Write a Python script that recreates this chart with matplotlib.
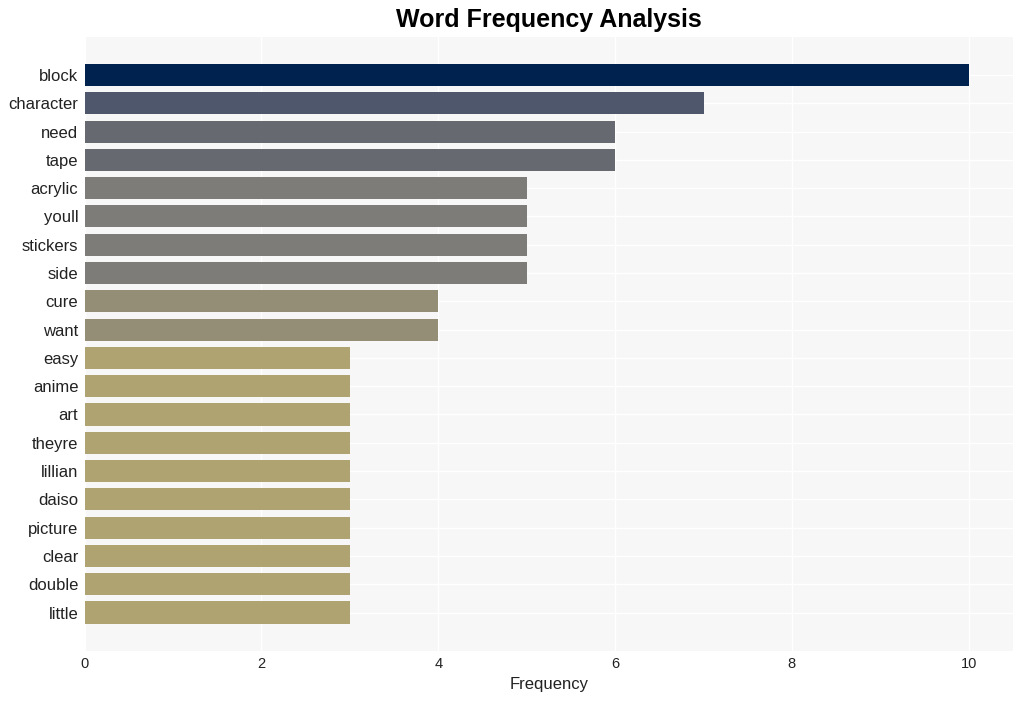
import matplotlib
matplotlib.use("Agg")
import matplotlib.pyplot as plt
import numpy as np

words = ["block", "character", "need", "tape", "acrylic", "youll", "stickers", "side",
         "cure", "want", "easy", "anime", "art", "theyre", "lillian", "daiso",
         "picture", "clear", "double", "little"]
counts = [10, 7, 6, 6, 5, 5, 5, 5, 4, 4, 3, 3, 3, 3, 3, 3, 3, 3, 3, 3]
x_ticks = [0, 2, 4, 6, 8, 10]

plt.rcParams['font.family'] = ['Liberation Sans', 'DejaVu Sans']

fig = plt.figure(figsize=(10.24, 7.01), dpi=100)
ax = fig.add_axes([84.5/1024, 1 - 651/701, (1013-84.5)/1024, (651-36.5)/701])
ax.set_facecolor('#f7f7f7')

cmap = plt.get_cmap('cividis')
vmax = max(counts)
colors = [cmap(1 - c / vmax) for c in counts]
y = np.arange(len(words))
ax.barh(y, counts, height=0.78, color=colors, zorder=3)

ax.set_ylim(len(words) - 1 + 1.36, -1.36)
ax.set_xlim(0, 10.5)
ax.set_yticks(y)
ax.set_yticklabels(words, fontsize=12, color='#222222')
ax.set_xticks(x_ticks)
ax.set_xticklabels([str(t) for t in x_ticks], fontsize=10.5, color='#222222')
ax.tick_params(axis='y', length=0, pad=4.5)
ax.tick_params(axis='x', length=0, pad=4)
ax.grid(True, color='white', linewidth=1, zorder=0)
ax.set_axisbelow(True)
for s in ax.spines.values():
    s.set_visible(False)
ax.set_xlabel("Frequency", fontsize=12, color='#222222', labelpad=5)
ax.set_title("Word Frequency Analysis", fontsize=18, fontweight='bold', pad=7)

fig.savefig("out.png", dpi=100)
